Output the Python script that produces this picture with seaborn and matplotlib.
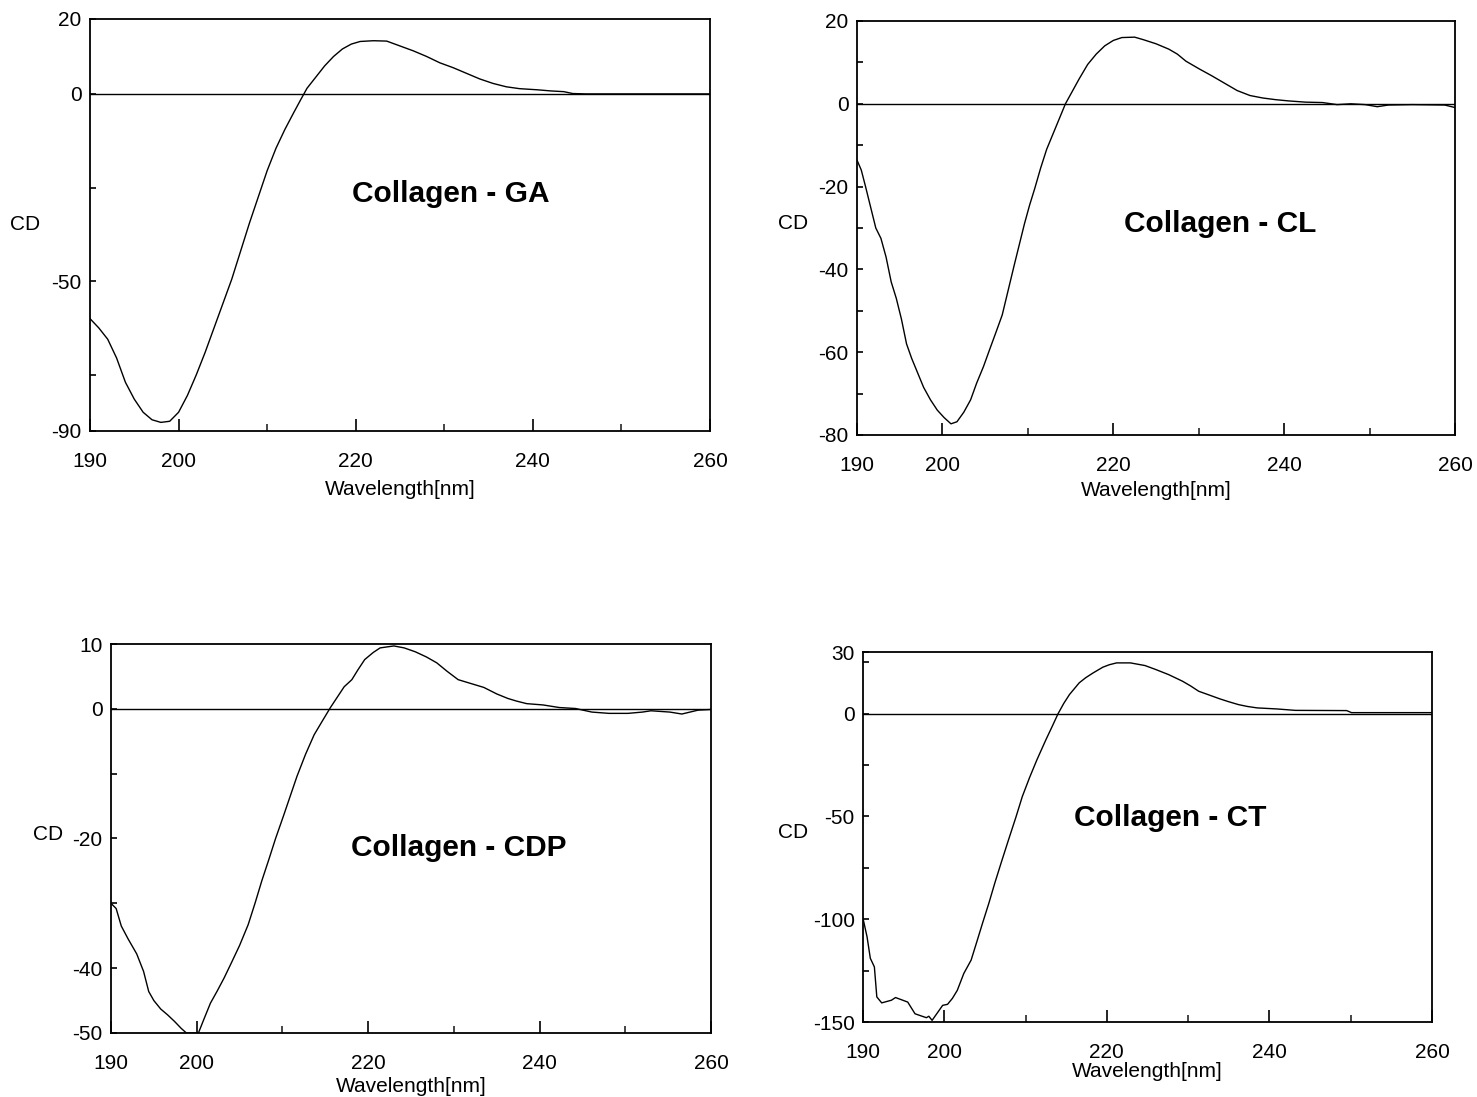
import matplotlib
matplotlib.use("Agg")
import matplotlib.pyplot as plt
import seaborn as sns

# Collagen - GA
ga_wl = [190, 191, 192, 193, 194, 195, 196, 197, 198, 199, 200, 201, 202, 203, 204, 205,
         206, 207, 208, 209, 210, 211, 212, 213, 213.8, 214.5, 215.5, 216.5, 217.5, 218.5,
         219.5, 220.5, 222, 223.5, 225, 226.5, 228, 229.5, 231, 232.5, 234, 235.5, 237,
         238.5, 240.5, 242, 243.5, 244.5, 246, 260]
ga_cd = [-60.0, -62.5, -65.5, -70.5, -77.0, -81.5, -85.0, -87.0, -87.7, -87.4, -85.0, -80.5,
         -75.0, -69.0, -62.5, -56.0, -49.5, -42.0, -34.5, -27.5, -20.5, -14.5, -9.5, -5.0,
         -1.5, 1.5, 4.5, 7.5, 10.0, 12.0, 13.3, 14.0, 14.2, 14.1, 12.8, 11.5, 10.0, 8.3,
         7.0, 5.5, 4.0, 2.8, 1.9, 1.4, 1.1, 0.8, 0.6, 0.1, 0.0, 0.0]

# Collagen - CL
cl_wl = [190, 190.5, 191, 191.6, 192.2, 192.8, 193.4, 194, 194.6, 195.2, 195.8, 196.4, 197,
         197.8, 198.6, 199.4, 200.2, 201, 201.7, 202.5, 203.3, 204, 204.8, 205.5, 206.3, 207,
         207.7, 208.4, 209, 209.6, 210.2, 210.8, 211.5, 212.2, 213, 213.7, 214.4, 215.2, 216,
         217, 218, 219, 220, 221, 222.5, 223.5, 225, 226.5, 227.5, 228.5, 230, 231.5, 233,
         234.5, 236, 237.5, 239, 240.5, 242.5, 244.5, 246.2, 247.8, 249.5, 250.9, 252.2, 255,
         258.8, 260]
cl_cd = [-13.6, -16.0, -20.0, -25.0, -30.0, -32.5, -37.0, -43.0, -47.0, -52.0, -58.0, -61.5,
         -64.5, -68.5, -71.5, -74.0, -75.8, -77.3, -76.8, -74.5, -71.5, -67.5, -63.5, -59.5,
         -55.0, -51.0, -45.0, -39.0, -34.0, -29.0, -24.5, -20.5, -15.5, -11.0, -7.0, -3.5,
         0.0, 3.0, 6.0, 9.5, 12.0, 14.0, 15.3, 16.0, 16.1, 15.5, 14.5, 13.2, 12.0, 10.3,
         8.5, 6.8, 5.0, 3.2, 2.0, 1.4, 1.0, 0.7, 0.4, 0.3, -0.2, 0.0, -0.2, -0.7, -0.3,
         -0.2, -0.3, -0.9]

# Collagen - CDP
cdp_wl = [190, 190.6, 191.2, 192, 193, 193.8, 194.4, 195, 195.8, 196.6, 197.4, 198.2, 198.8,
          200.2, 200.8, 201.6, 202.4, 203.2, 204, 205, 206, 206.8, 207.6, 208.4, 209.2, 210.1,
          210.9, 211.7, 212.7, 213.7, 214.6, 215.6, 216.4, 217.2, 218.1, 218.8, 219.6, 220.6,
          221.4, 223, 224.2, 225.5, 226.8, 228, 229.2, 230.5, 232, 233.5, 235, 236.3, 237.3,
          238.5, 240.4, 242.3, 244.2, 246.1, 248.1, 250.3, 252, 253, 255.2, 256.6, 258.5, 260]
cdp_cd = [-30.0, -30.8, -33.5, -35.5, -37.8, -40.5, -43.6, -45.0, -46.3, -47.2, -48.2, -49.3,
          -50.0, -50.0, -48.0, -45.4, -43.5, -41.5, -39.3, -36.5, -33.3, -30.0, -26.5, -23.3,
          -20.0, -16.6, -13.5, -10.4, -7.0, -4.0, -2.0, 0.2, 1.8, 3.4, 4.5, 6.0, 7.6, 8.7,
          9.4, 9.7, 9.4, 8.8, 8.0, 7.1, 5.8, 4.5, 3.9, 3.3, 2.3, 1.6, 1.2, 0.8, 0.6, 0.2,
          0.05, -0.5, -0.7, -0.7, -0.5, -0.3, -0.5, -0.8, -0.2, -0.1]

# Collagen - CT
ct_wl = [190.0, 190.5, 190.9, 191.4, 191.7, 192.3, 193.5, 194.0, 195.5, 196.4, 197.2, 197.8,
         198.1, 198.5, 199.8, 200.4, 201.0, 201.6, 202.4, 203.3, 204.0, 204.7, 205.5, 206.2,
         207.0, 207.9, 208.8, 209.6, 210.5, 211.4, 212.5, 213.3, 214.0, 214.7, 215.4, 216.6,
         217.4, 218.3, 219.5, 220.3, 221.2, 222.9, 224.7, 226.0, 227.6, 229.3, 230.3, 231.3,
         232.5, 233.9, 235.0, 236.2, 237.3, 238.5, 240.9, 243.2, 249.5, 250.1, 260]
ct_cd = [-99.6, -108.6, -119.0, -123.2, -137.8, -140.7, -139.4, -138.1, -140.3, -146.0, -147.1,
         -147.9, -147.2, -149.2, -141.9, -141.4, -138.5, -134.6, -126.4, -119.9, -111.0, -102.0,
         -92.0, -82.6, -72.5, -61.4, -50.5, -40.3, -31.0, -22.4, -12.7, -6.0, 0.0, 5.0, 9.3,
         15.0, 17.5, 19.8, 22.6, 23.8, 24.7, 24.7, 23.4, 21.5, 19.0, 15.8, 13.5, 10.9, 9.2,
         7.2, 5.8, 4.4, 3.5, 2.8, 2.3, 1.6, 1.5, 0.5, 0.5]

x_labels = [190, 200, 220, 240, 260]
x_minor = [210, 230, 250]

panels = [
    # name, wl, cd, ylim, labelled ticks, minor ticks, axes box px (l, r, t, b), text pos, ylabel pos, xlabel y
    ("Collagen - GA", ga_wl, ga_cd, (-90, 20), [20, 0, -50, -90], [-25, -75],
     (90, 710, 19, 431), (0.582, 0.575), (-0.105, 0.502), -0.143),
    ("Collagen - CL", cl_wl, cl_cd, (-80, 20), [20, 0, -20, -40, -60, -80], [10, -10, -30, -50, -70],
     (857, 1455, 21, 435), (0.607, 0.510), (-0.107, 0.510), -0.135),
    ("Collagen - CDP", cdp_wl, cdp_cd, (-50, 10), [10, 0, -20, -40, -50], [-10, -30],
     (111, 711, 644, 1033), (0.580, 0.476), (-0.105, 0.509), -0.137),
    ("Collagen - CT", ct_wl, ct_cd, (-150, 30), [30, 0, -50, -100, -150], [25, -25, -75, -125],
     (863, 1432, 652, 1022), (0.540, 0.551), (-0.123, 0.511), -0.135),
]

sns.set_theme(style="white")
plt.rcParams["font.family"] = ["Liberation Sans", "DejaVu Sans"]
plt.rcParams["axes.unicode_minus"] = False

W, H = 1477, 1097
fig = plt.figure(figsize=(W / 100, H / 100), dpi=100)

for name, wl, cd, ylim, yt, ymin, box, tpos, ylpos, xly in panels:
    l, r, t, b = box
    ax = fig.add_axes([l / W, 1 - b / H, (r - l) / W, (b - t) / H])
    sns.lineplot(x=wl, y=cd, ax=ax, color="black", linewidth=1.0, estimator=None)
    ax.axhline(0, color="black", linewidth=1.0)
    ax.set_xlim(190, 260)
    ax.set_ylim(*ylim)
    ax.set_xticks(x_labels)
    ax.set_xticks(x_minor, minor=True)
    ax.set_yticks(yt)
    ax.set_yticks(ymin, minor=True)
    ax.tick_params(axis="x", which="major", direction="in", length=9, width=1.2,
                   labelsize=15, pad=15, colors="black")
    ax.tick_params(axis="x", which="minor", direction="in", length=5, width=1.2)
    ax.tick_params(axis="y", which="both", direction="in", length=4, width=1.2,
                   labelsize=15, pad=6, colors="black")
    ax.tick_params(bottom=True, left=True, top=False, right=False, which="both")
    for sp in ax.spines.values():
        sp.set_color("black")
        sp.set_linewidth(1.3)
    ax.set_xlabel("Wavelength[nm]", fontsize=15, color="black")
    ax.xaxis.set_label_coords(0.5, xly)
    ax.xaxis.label.set_va("center")
    ax.set_ylabel("CD", fontsize=15, rotation=0, color="black", va="center", ha="center")
    ax.yaxis.set_label_coords(*ylpos)
    ax.text(tpos[0], tpos[1], name, transform=ax.transAxes, fontsize=21.5,
            fontweight="bold", ha="center", va="center", color="black")

fig.savefig("out.png", dpi=100, facecolor="white")
plt.close(fig)
